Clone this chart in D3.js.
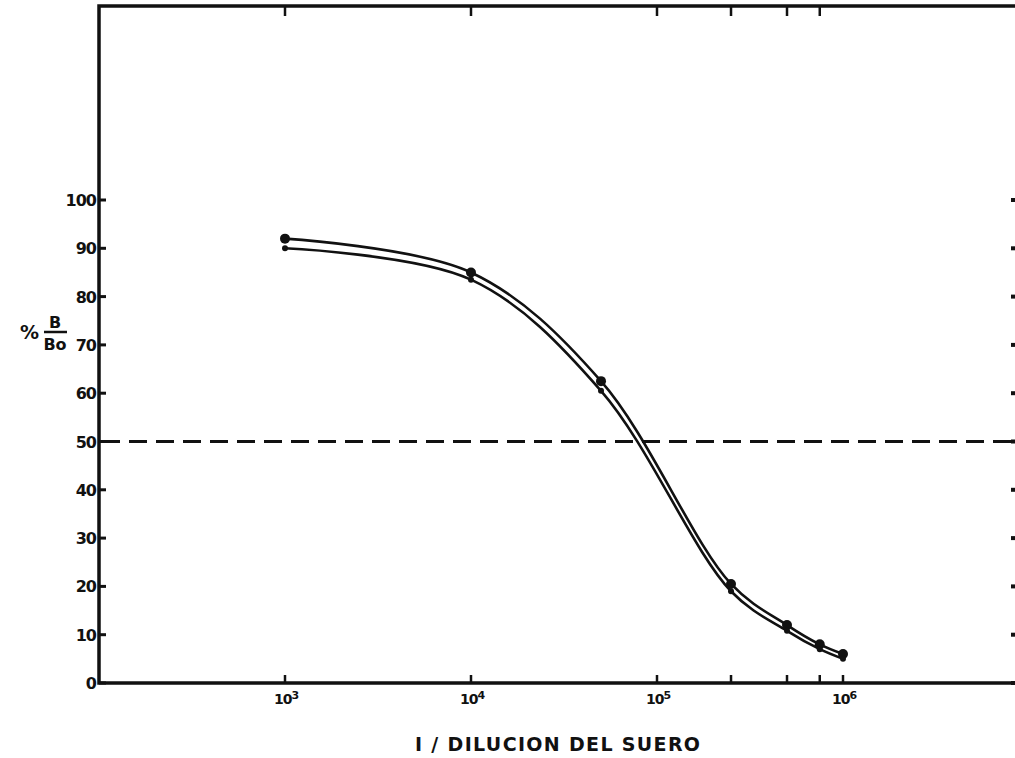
<!DOCTYPE html>
<html>
<head>
<meta charset="utf-8">
<script src="https://cdn.jsdelivr.net/npm/d3@7"></script>
<style>
  body { margin: 0; background: #fff; }
  svg { display: block; }
  text { font-family: "DejaVu Sans", sans-serif; font-weight: bold; fill: #111; }
</style>
</head>
<body>
<svg id="chart" width="1015" height="758"></svg>
<script>
// dilutions (1 / dilucion) and % B/Bo for the two curves
var dilutions = [1e3, 1e4, 5e4, 2.5e5, 5e5, 7.5e5, 1e6];
var upperSeries = [92, 85, 62.5, 20.5, 12, 8, 6];
var lowerSeries = [90, 83.5, 60.5, 19, 10.8, 7, 5];
var yTicks = [0, 10, 20, 30, 40, 50, 60, 70, 80, 90, 100];
var xLabelTicks = [1e3, 1e4, 1e5, 1e6];
var xBottomTicks = [1e3, 1e4, 1e5, 2.5e5, 5e5, 7.5e5, 1e6];
var xTopTicks = [1e3, 1e4, 1e5, 2.5e5, 5e5, 7.5e5];
var halfLine = 50;

var svg = d3.select("#chart");
var ink = "#111";

// scales
var xScale = d3.scaleLog().domain([1e2, 1e7]).range([99, 99 + 5 * 186]);
var yScale = d3.scaleLinear().domain([0, 100]).range([683, 200]);
var leftX = xScale(1e2), rightX = 1015;
var topY = 6, bottomY = yScale(0);

// frame: left, top and bottom lines
svg.append("path")
  .attr("d", "M" + rightX + "," + topY + "H" + leftX + "V" + bottomY + "H" + rightX)
  .attr("fill", "none")
  .attr("stroke", ink)
  .attr("stroke-width", 3.5);

// y ticks on left axis (pointing in) and right edge
svg.selectAll(".ytick")
  .data(yTicks)
  .enter()
  .append("line")
  .attr("x1", leftX)
  .attr("x2", leftX + 7)
  .attr("y1", function (d) { return yScale(d); })
  .attr("y2", function (d) { return yScale(d); })
  .attr("stroke", ink)
  .attr("stroke-width", 3);

svg.selectAll(".ytickR")
  .data(yTicks)
  .enter()
  .append("line")
  .attr("x1", rightX)
  .attr("x2", rightX - 4)
  .attr("y1", function (d) { return yScale(d); })
  .attr("y2", function (d) { return yScale(d); })
  .attr("stroke", ink)
  .attr("stroke-width", 4);

svg.selectAll(".ylab")
  .data(yTicks)
  .enter()
  .append("text")
  .attr("x", leftX - 3)
  .attr("y", function (d) { return yScale(d) + 6; })
  .attr("text-anchor", "end")
  .attr("font-size", "16px")
  .attr("letter-spacing", "-1px")
  .text(function (d) { return d; });

// x ticks bottom (up) and top (down)
svg.selectAll(".xtickB")
  .data(xBottomTicks)
  .enter()
  .append("line")
  .attr("x1", function (d) { return xScale(d); })
  .attr("x2", function (d) { return xScale(d); })
  .attr("y1", bottomY)
  .attr("y2", bottomY - 8)
  .attr("stroke", ink)
  .attr("stroke-width", 2.5);

svg.selectAll(".xtickT")
  .data(xTopTicks)
  .enter()
  .append("line")
  .attr("x1", function (d) { return xScale(d); })
  .attr("x2", function (d) { return xScale(d); })
  .attr("y1", topY)
  .attr("y2", topY + 10)
  .attr("stroke", ink)
  .attr("stroke-width", 2.5);

// x tick labels 10^n
var xl = svg.selectAll(".xlab")
  .data(xLabelTicks)
  .enter()
  .append("text")
  .attr("x", function (d) { return xScale(d) - 11; })
  .attr("y", 704)
  .attr("font-size", "14px")
  .attr("letter-spacing", "-1px");
xl.append("tspan").text("10");
xl.append("tspan")
  .attr("dy", -5)
  .attr("font-size", "11px")
  .text(function (d) { return Math.round(Math.log10(d)); });

// dashed 50% line
svg.append("line")
  .attr("x1", leftX + 3)
  .attr("x2", rightX)
  .attr("y1", yScale(halfLine))
  .attr("y2", yScale(halfLine))
  .attr("stroke", ink)
  .attr("stroke-width", 3)
  .attr("stroke-dasharray", "18,9");

// curves
var line = d3.line()
  .x(function (d) { return xScale(d[0]); })
  .y(function (d) { return yScale(d[1]); })
  .curve(d3.curveCatmullRom.alpha(0.5));

var upper = d3.zip(dilutions, upperSeries);
var lower = d3.zip(dilutions, lowerSeries);

[upper, lower].forEach(function (s) {
  svg.append("path")
    .attr("d", line(s))
    .attr("fill", "none")
    .attr("stroke", ink)
    .attr("stroke-width", 2.6);
});

svg.selectAll(".ptU")
  .data(upper)
  .enter()
  .append("circle")
  .attr("cx", function (d) { return xScale(d[0]); })
  .attr("cy", function (d) { return yScale(d[1]); })
  .attr("r", 5)
  .attr("fill", ink);

svg.selectAll(".ptL")
  .data(lower)
  .enter()
  .append("circle")
  .attr("cx", function (d) { return xScale(d[0]); })
  .attr("cy", function (d) { return yScale(d[1]); })
  .attr("r", 3)
  .attr("fill", ink);

// y label: % B / Bo
svg.append("text")
  .attr("x", 20)
  .attr("y", 339)
  .attr("font-size", "19px")
  .text("%");
svg.append("text")
  .attr("x", 55)
  .attr("y", 328)
  .attr("text-anchor", "middle")
  .attr("font-size", "16px")
  .text("B");
svg.append("line")
  .attr("x1", 44)
  .attr("x2", 67)
  .attr("y1", 332)
  .attr("y2", 332)
  .attr("stroke", ink)
  .attr("stroke-width", 2.5);
svg.append("text")
  .attr("x", 55)
  .attr("y", 350)
  .attr("text-anchor", "middle")
  .attr("font-size", "16px")
  .text("Bo");

// x title
svg.append("text")
  .attr("x", 415)
  .attr("y", 751)
  .attr("font-size", "19px")
  .attr("textLength", 285)
  .attr("lengthAdjust", "spacing")
  .text("I / DILUCION DEL SUERO");
</script>
</body>
</html>
